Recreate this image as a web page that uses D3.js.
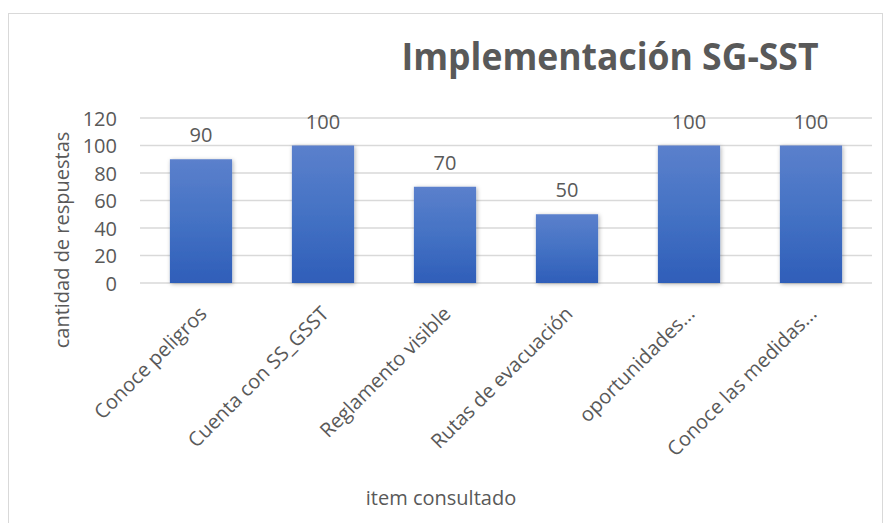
<!DOCTYPE html>
<html lang="es">
<head>
<meta charset="UTF-8">
<title>Implementación SG-SST</title>
<script src="https://cdnjs.cloudflare.com/ajax/libs/d3/7.8.5/d3.min.js"></script>
<style>
  body { margin: 0; background: #fff; }
  text { font-family: "Open Sans", "DejaVu Sans", sans-serif; fill: #595959; }
</style>
</head>
<body>
<svg id="chart" width="890" height="523"></svg>
<script>
// data
var categories = ["Conoce peligros", "Cuenta con SS_GSST", "Reglamento visible",
                  "Rutas de evacuación", "oportunidades...", "Conoce las medidas..."];
var values = [90, 100, 70, 50, 100, 100];
var yTicks = [0, 20, 40, 60, 80, 100, 120];

var width = 890, height = 523;
var margin = {left: 140, right: 18, top: 118, bottom: 240};

var svg = d3.select("#chart");

// outer chart border
svg.append("rect")
    .attr("x", 8.5).attr("y", 13.5)
    .attr("width", 874).attr("height", 520)
    .attr("fill", "#fff").attr("stroke", "#d9d9d9");

var defs = svg.append("defs");
var grad = defs.append("linearGradient")
    .attr("id", "barGrad").attr("x1", 0).attr("y1", 0).attr("x2", 0).attr("y2", 1);
grad.append("stop").attr("offset", "0%").attr("stop-color", "#5b80cc");
grad.append("stop").attr("offset", "50%").attr("stop-color", "#4472c4");
grad.append("stop").attr("offset", "100%").attr("stop-color", "#2f5eb9");

var shadow = defs.append("filter").attr("id", "shadow")
    .attr("x", "-20%").attr("y", "-10%").attr("width", "140%").attr("height", "120%");
shadow.append("feDropShadow")
    .attr("dx", 1).attr("dy", 1).attr("stdDeviation", 2)
    .attr("flood-color", "#000").attr("flood-opacity", 0.3);

var x = d3.scaleBand()
    .domain(categories)
    .range([margin.left, width - margin.right])
    .paddingInner(0.49)
    .paddingOuter(0.245);

var y = d3.scaleLinear()
    .domain([0, 120])
    .range([height - margin.bottom, margin.top]);

// gridlines
svg.append("g")
    .selectAll("line")
    .data(yTicks)
    .join("line")
    .attr("x1", margin.left).attr("x2", width - margin.right)
    .attr("y1", d => y(d)).attr("y2", d => y(d))
    .attr("stroke", "#d9d9d9").attr("stroke-width", 1.3);

// y axis labels
var yAxis = svg.append("g")
    .attr("transform", "translate(" + (margin.left - 23) + ",0)")
    .call(d3.axisLeft(y).tickValues(yTicks).tickSize(0).tickPadding(0));
yAxis.select(".domain").remove();
yAxis.selectAll("text")
    .style("font-size", "20px").attr("fill", "#595959").attr("dy", "0.35em");

// bars
svg.append("g")
    .selectAll("rect")
    .data(values)
    .join("rect")
    .attr("x", (d, i) => x(categories[i]))
    .attr("y", d => y(d))
    .attr("width", x.bandwidth())
    .attr("height", d => y(0) - y(d))
    .attr("fill", "url(#barGrad)")
    .attr("filter", "url(#shadow)");

// data labels
svg.append("g")
    .selectAll("text")
    .data(values)
    .join("text")
    .attr("x", (d, i) => x(categories[i]) + x.bandwidth() / 2)
    .attr("y", d => y(d) - 17)
    .attr("text-anchor", "middle")
    .style("font-size", "20px")
    .text(d => d);

// x axis labels, rotated
var xAxis = svg.append("g")
    .attr("transform", "translate(0," + y(0) + ")")
    .call(d3.axisBottom(x).tickSize(0).tickPadding(0));
xAxis.select(".domain").remove();
xAxis.selectAll("text")
    .style("font-size", "20px")
    .attr("fill", "#595959")
    .attr("text-anchor", "end")
    .attr("dy", null)
    .attr("transform", "translate(7,32) rotate(-45)");

// titles
svg.append("text")
    .attr("x", 610).attr("y", 70)
    .attr("text-anchor", "middle")
    .attr("textLength", 417).attr("lengthAdjust", "spacingAndGlyphs")
    .style("font-size", "38px").style("font-weight", "bold")
    .text("Implementación SG-SST");

svg.append("text")
    .attr("transform", "translate(69,240) rotate(-90)")
    .attr("text-anchor", "middle")
    .style("font-size", "20px")
    .text("cantidad de respuestas");

svg.append("text")
    .attr("x", 441).attr("y", 505)
    .attr("text-anchor", "middle")
    .style("font-size", "20px")
    .text("item consultado");
</script>
</body>
</html>
